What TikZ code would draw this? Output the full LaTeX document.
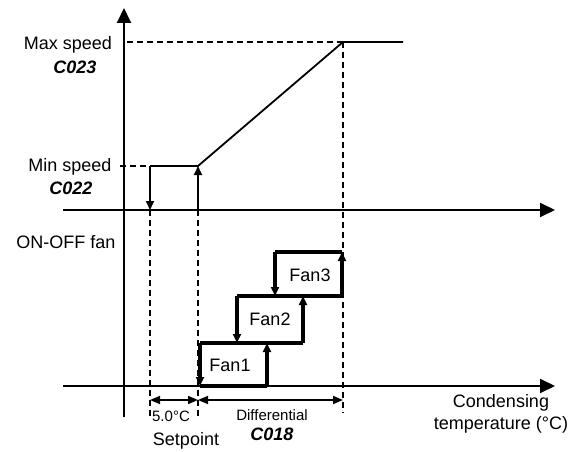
\documentclass[tikz,border=0pt]{standalone}
\usepackage{fontspec}
\setmainfont{Liberation Sans}
\usetikzlibrary{arrows.meta}

\begin{document}
\begin{tikzpicture}[
    x=1pt, y=-1pt,
    >={Triangle[length=9pt,width=8pt]},
    axis/.style={
        line width=2pt,
        -{Triangle[length=15pt,width=14pt]}
    },
    guide/.style={
        line width=1.5pt,
        dash pattern=on 6pt off 4pt
    },
    curve/.style={line width=1.8pt},
    fanline/.style={line width=3.2pt},
    dim/.style={
        line width=1.5pt,
        {Triangle[length=10pt,width=8pt]}-{Triangle[length=10pt,width=8pt]}
    },
    lbl/.style={font=\fontsize{18}{22}\selectfont, inner sep=0pt},
    code/.style={font=\fontsize{18}{22}\selectfont\bfseries\itshape, inner sep=0pt},
    small/.style={font=\fontsize{15}{18}\selectfont, inner sep=0pt}
]

\useasboundingbox (0,0) rectangle (579,452);

% axes
\coordinate (ybot) at (124,417);
\coordinate (ytop) at (124,8);
\coordinate (sbeg) at (63,210);
\coordinate (send) at (555,210);
\coordinate (tbeg) at (63,386);
\coordinate (tend) at (555,386);

\draw[axis] (ybot) -- (ytop);
\draw[axis] (sbeg) -- (send);
\draw[axis] (tbeg) -- (tend);

% modulating fan speed
\coordinate (minl) at (120,166);
\coordinate (minoff) at (150,166);
\coordinate (minon) at (198,166);
\coordinate (maxl) at (127,42);
\coordinate (maxon) at (343,42);
\coordinate (maxend) at (403,42);
\coordinate (offax) at (150,210);
\coordinate (onax) at (198,210);

\draw[guide] (minl) -- (minoff);
\draw[guide] (maxl) -- (maxon);
\draw[curve] (minoff) -- (minon) -- (maxon) -- (maxend);
\draw[curve,->] (minoff) -- (offax);
\draw[curve,->] (onax) -- (minon);

% guide lines
\coordinate (offbot) at (150,417);
\coordinate (onbot) at (198,417);
\coordinate (maxbot) at (343,413);

\draw[guide] (offax) -- (offbot);
\draw[guide] (onax) -- (onbot);
\draw[guide] (maxon) -- (maxbot);

% ON-OFF fan steps
\coordinate (f1a) at (200,386);
\coordinate (f1b) at (267,386);
\coordinate (f1c) at (267,343);
\coordinate (f1d) at (200,343);
\coordinate (f2a) at (237,343);
\coordinate (f2b) at (303,343);
\coordinate (f2c) at (303,296);
\coordinate (f2d) at (237,296);
\coordinate (f3a) at (275,296);
\coordinate (f3b) at (342,296);
\coordinate (f3c) at (342,252);
\coordinate (f3d) at (275,252);

\draw[fanline] (f1a) -- (f1b);
\draw[fanline,->] (f1b) -- (f1c);
\draw[fanline] (f1d) -- (f2b);
\draw[fanline,->] (f1d) -- (f1a);
\draw[fanline,->] (f2b) -- (f2c);
\draw[fanline] (f2d) -- (f3b);
\draw[fanline,->] (f2d) -- (f2a);
\draw[fanline,->] (f3b) -- (f3c);
\draw[fanline] (f3d) -- (f3c);
\draw[fanline,->] (f3d) -- (f3a);

\node[lbl] (fan1) at (230,365) {Fan1};
\node[lbl] (fan2) at (270,319) {Fan2};
\node[lbl] (fan3) at (310,275) {Fan3};

% dimensions
\coordinate (doff) at (150,400);
\coordinate (don) at (198,400);
\coordinate (dmax) at (343,400);

\draw[dim] (doff) -- (don);
\draw[dim] (don) -- (dmax);

\node[small] (band) at (171,416) {5.0°C};
\node[small] (diff) at (272,415) {Differential};
\node[code] (c018) at (272,434) {C018};
\node[lbl] (setp) at (186,441) {Setpoint};
\node[lbl, align=center] (xlab) at (501,414) {Condensing\\temperature (°C)};

% speed labels
\node[lbl] (maxsp) at (68,45) {Max speed};
\node[code] (c023) at (75,67) {C023};
\node[lbl] (minsp) at (70,167) {Min speed};
\node[code] (c022) at (71,188) {C022};
\node[lbl] (onoff) at (66,242) {ON-OFF fan};

\end{tikzpicture}
\end{document}
